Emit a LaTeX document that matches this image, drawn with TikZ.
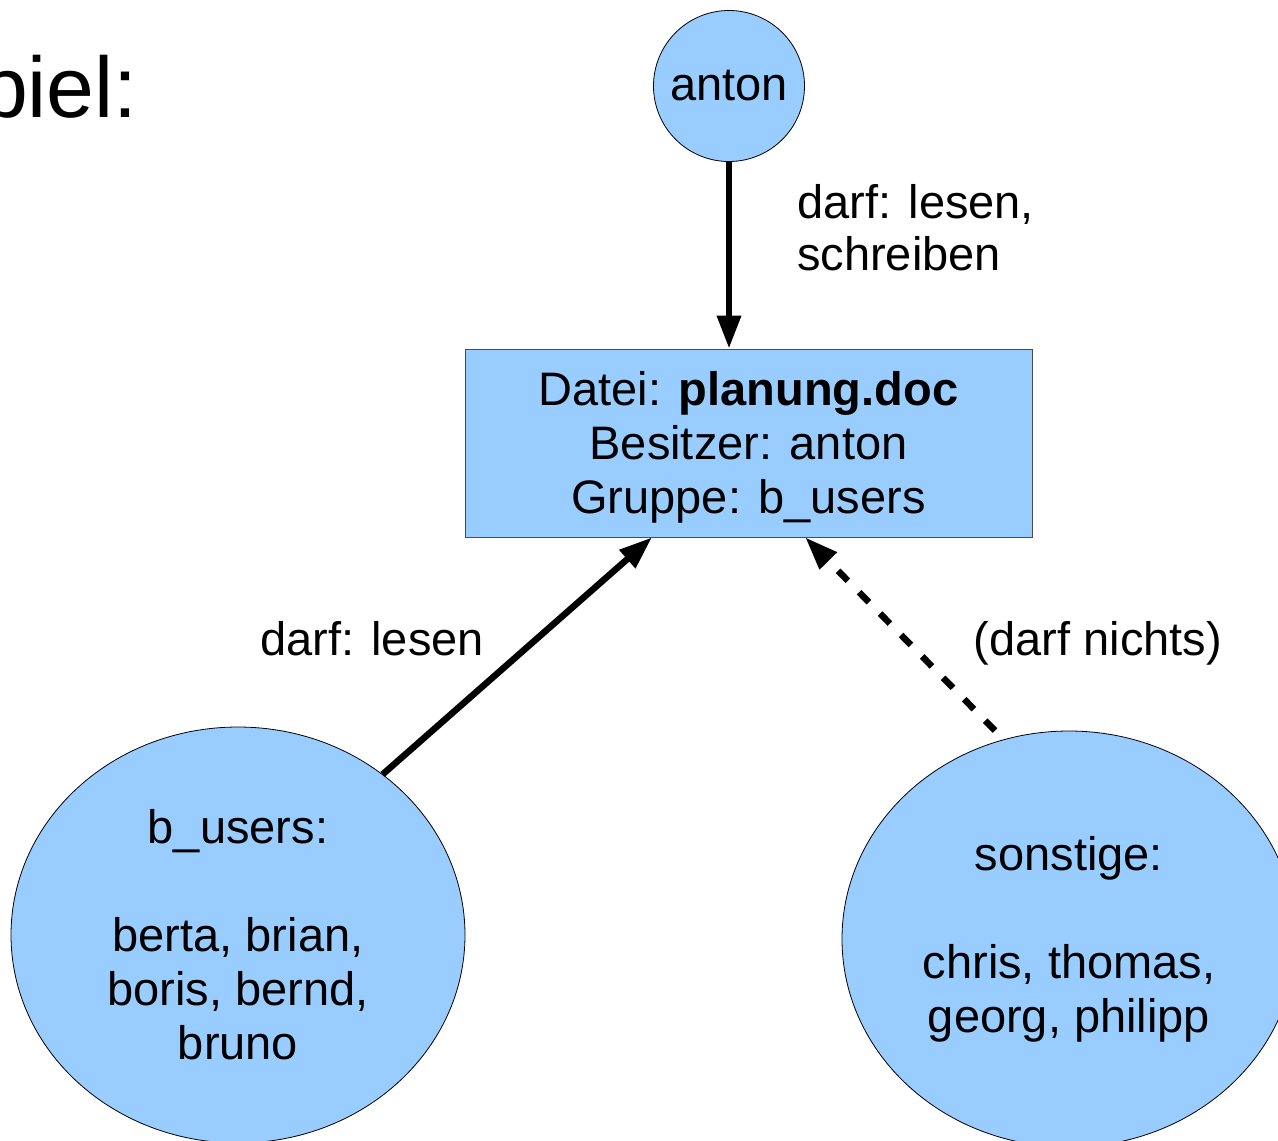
\documentclass[tikz,border=0pt]{standalone}
\usepackage{fontspec}
\setmainfont{Liberation Sans}
\usetikzlibrary{arrows.meta,shapes.geometric,calc}
\definecolor{nodeblue}{HTML}{99CCFF}
\begin{document}
\begin{tikzpicture}[x=1pt,y=-1pt,
  every node/.style={font=\fontsize{47}{54}\selectfont, inner sep=0pt},
  person/.style={circle, draw=black, line width=0.8pt, fill=nodeblue, minimum size=151pt},
  group/.style={ellipse, draw=black, line width=0.8pt, fill=nodeblue, minimum width=454pt, minimum height=416pt, align=center},
  filebox/.style={rectangle, draw=black!70, line width=0.8pt, fill=nodeblue, minimum width=567pt, minimum height=188pt},
  filetext/.style={align=center},
  arr/.style={line width=6.5pt, -{Triangle[length=33pt,width=23pt]}},
  darr/.style={arr, dash pattern=on 14pt off 16pt},
  lbl/.style={align=left, font=\fontsize{47}{52}\selectfont}]
\useasboundingbox (0,0) rectangle (1278,1141);
\node[anchor=base east, font=\fontsize{86}{100}\selectfont] (title) at (138,117) {piel:};
\node[person] (anton) at (729,86) {anton};
\node[filebox] (file) at (748.5,443) {};
\node[filetext] (filetxt) at (748.5,447) {Datei: \textbf{planung.doc}\\Besitzer: anton\\Gruppe: b\_users};
\node[group] (bu) at (238,935) {b\_users:\\[54pt]berta, brian,\\boris, bernd,\\bruno};
\node[group] (so) at (1069,939) {sonstige:\\[54pt]chris, thomas,\\georg, philipp};
\node[lbl, anchor=north west] (l1) at (797,184) {darf: lesen,\\schreiben};
\node[anchor=base] (l2) at (372,655) {darf: lesen};
\node[anchor=base] (l3) at (1098,655) {(darf nichts)};
\draw[arr] (anton) -- (anton |- file.north);
\draw[arr] (bu.48) -- ($(file.south west)!0.33!(file.south east)$);
\draw[darr] ($(so.north)+(-74,0)$) -- ($(file.south west)!0.6!(file.south east)$);
\end{tikzpicture}
\end{document}
